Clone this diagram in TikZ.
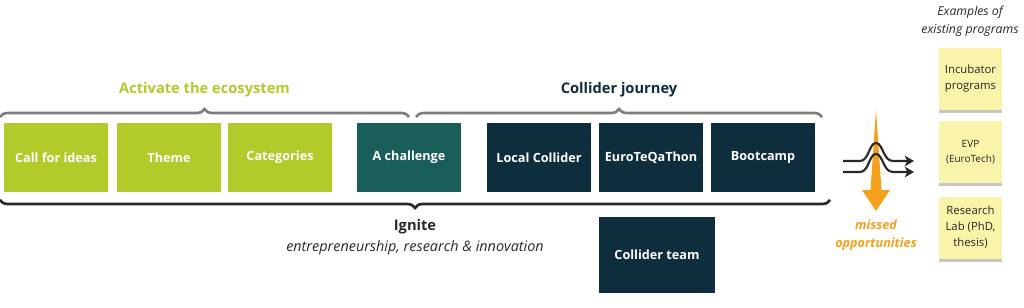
\documentclass[tikz,border=0pt]{standalone}
\usepackage{fontspec}
\setmainfont{Open Sans}
\usepackage{xcolor}
\usepackage{tikz}
\usetikzlibrary{decorations.pathreplacing,arrows.meta,shadows}

\definecolor{ecolime}{RGB}{178,202,42}
\definecolor{challteal}{RGB}{26,94,89}
\definecolor{collnavy}{RGB}{14,45,61}
\definecolor{missorange}{RGB}{245,160,28}
\definecolor{stickyyellow}{RGB}{250,244,170}
\definecolor{bracegray}{RGB}{125,125,125}
\definecolor{textgray}{RGB}{40,40,40}

\begin{document}
\begin{tikzpicture}[x=0.75pt,y=-0.75pt,font=\fontsize{10}{12}\selectfont,
  stage/.style={minimum width=78pt,minimum height=51.75pt,inner sep=0pt,text=white,font=\fontsize{9.5}{11}\selectfont\bfseries},
  sticky/.style={fill=stickyyellow,minimum width=47pt,minimum height=46.5pt,inner sep=1pt,align=center,text=textgray,
    font=\fontsize{8.5}{12}\selectfont,drop shadow={shadow xshift=0pt,shadow yshift=-2.5pt,opacity=0.45}},
  topbrace/.style={decorate,decoration={brace,amplitude=6pt},draw=bracegray,line width=2pt},
  wave/.style={draw=textgray,line width=1.6pt,-{Stealth[length=7pt,width=8pt,inset=2pt]}}]
\useasboundingbox (0,0) rectangle (1024,307);

\foreach \name/\x/\col/\txt in {ideas/56/ecolime/Call for ideas,theme/169/ecolime/Theme,categ/280/ecolime/Categories,
  chall/409/challteal/A challenge,local/539/collnavy/Local Collider,euroteq/651/collnavy/EuroTeQaThon,boot/763/collnavy/Bootcamp}
  {\node[stage,fill=\col] (\name) at (\x,157.5) {\txt};}
\node[stage,fill=collnavy,minimum width=87pt,minimum height=57pt] (team) at (657,255) {Collider team};

\coordinate (actL) at (0,117);
\coordinate (actR) at (409,117);
\coordinate (jrnL) at (416,117);
\coordinate (jrnR) at (822,117);
\coordinate (ignL) at (0,200);
\coordinate (ignR) at (830,200);
\draw[topbrace] (actL) -- (actR);
\draw[topbrace] (jrnL) -- (jrnR);
\draw[decorate,decoration={brace,amplitude=6pt},draw=textgray,line width=2pt] (ignR) -- (ignL);

\node[font=\fontsize{11}{13}\selectfont\bfseries,text=ecolime] (activate) at (204.5,90) {Activate the ecosystem};
\node[font=\fontsize{11}{13}\selectfont\bfseries,text=collnavy] (journey) at (619,90) {Collider journey};
\node[font=\fontsize{11}{13}\selectfont\bfseries,text=textgray] (ignite) at (415,227) {Ignite};
\node[font=\fontsize{10.8}{13}\selectfont\itshape,text=textgray] (ignsub) at (415,248) {entrepreneurship, research \& innovation};

\fill[missorange] (876,110) -- (881.5,190) -- (890,190) -- (876,211) -- (862,190) -- (870.5,190) -- cycle;
\coordinate (w1a) at (843,161);
\coordinate (w1b) at (914,161);
\coordinate (w2a) at (843,172);
\coordinate (w2b) at (914,172);
\draw[wave] (w1a) -- (860,161) .. controls (869,161) and (869,143) .. (876,143) .. controls (883,143) and (883,161) .. (893,161) -- (w1b);
\draw[wave] (w2a) -- (860,172) .. controls (869,172) and (869,154) .. (876,154) .. controls (883,154) and (883,172) .. (893,172) -- (w2b);
\node[font=\fontsize{9.5}{13.5}\selectfont\bfseries\itshape,text=missorange,align=center] (missed) at (876,235) {missed\\opportunities};

\node[font=\fontsize{9.2}{13.5}\selectfont\itshape,text=textgray,align=center] (examples) at (970,21) {Examples of\\existing programs};
\node[sticky] (incub) at (970.5,79) {Incubator\\programs};
\node[sticky,font=\fontsize{7.5}{11}\selectfont] (evp) at (970.5,152) {EVP\\(EuroTech)};
\node[sticky] (reslab) at (970.5,227.5) {Research\\Lab (PhD,\\thesis)};
\end{tikzpicture}
\end{document}
